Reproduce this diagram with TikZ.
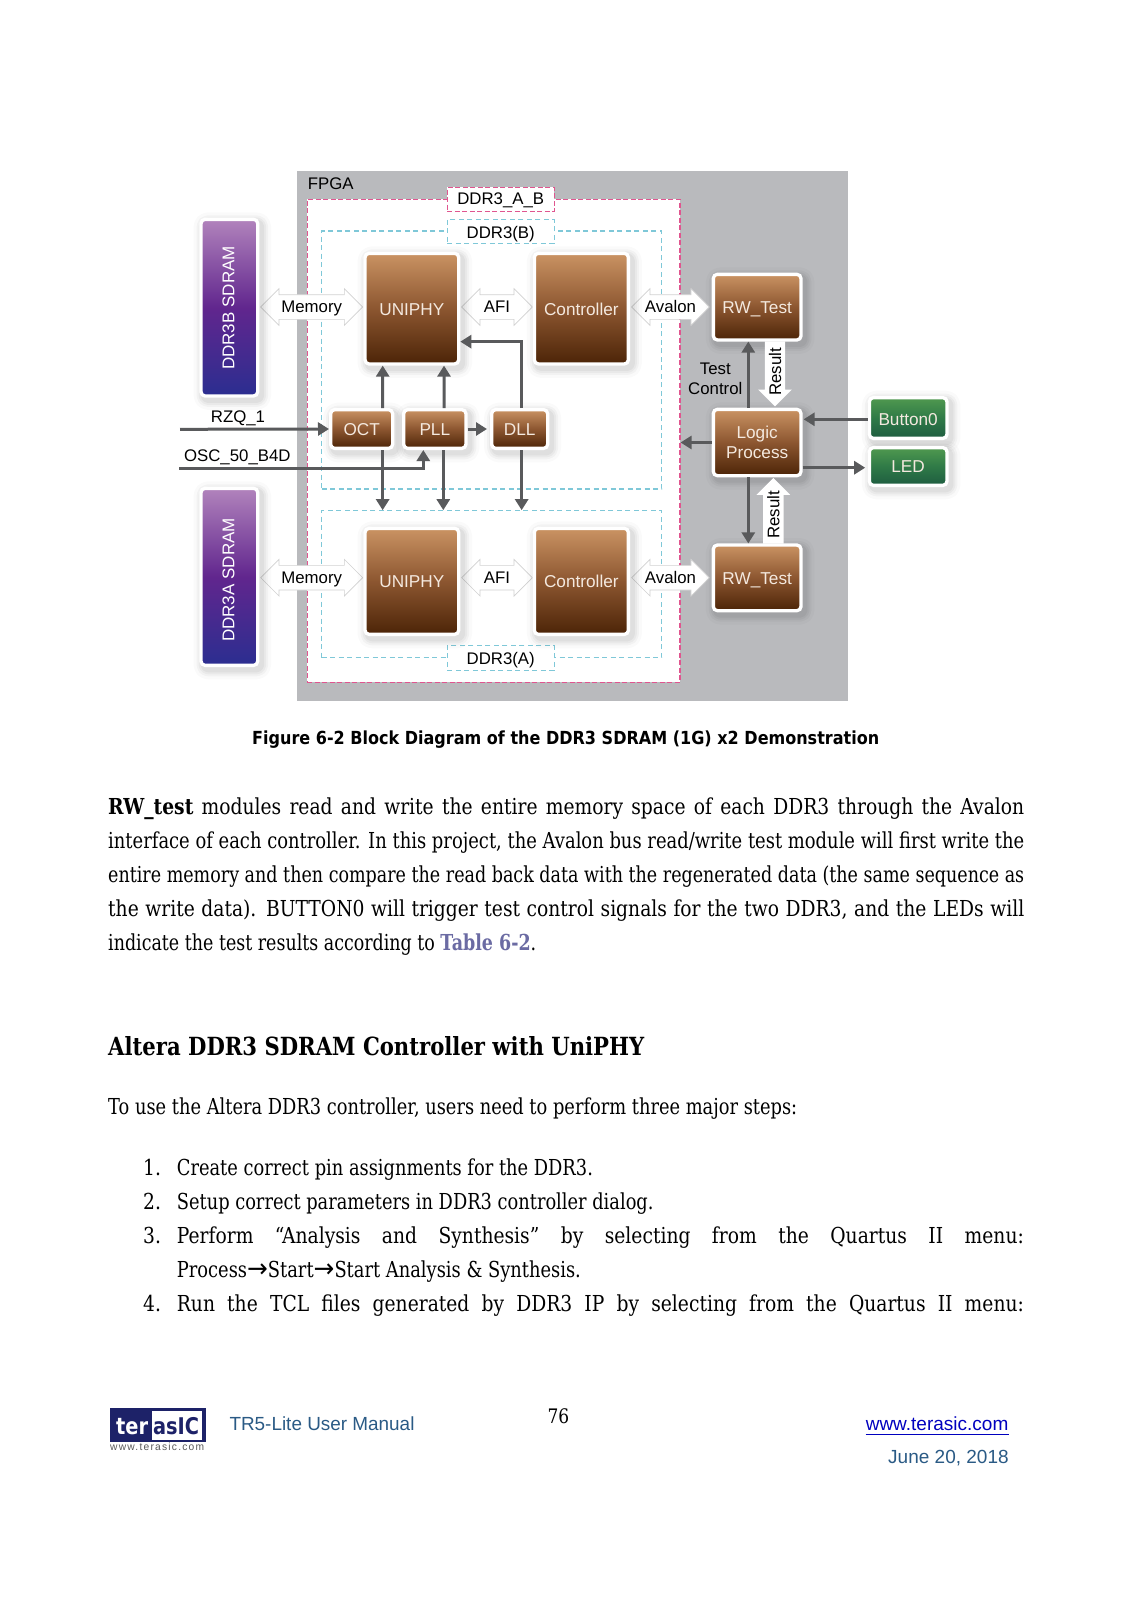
\documentclass[tikz,border=0pt]{standalone}
\usepackage{fontspec}
\usepackage{graphicx}
\usetikzlibrary{arrows.meta,shapes.arrows}
\setmainfont[FakeStretch=.85]{DejaVu Serif}
\newfontfamily\lsans{Liberation Sans}
\newfontfamily\logosm[LetterSpace=12]{Liberation Sans}
\newfontfamily\capfont{DejaVu Sans}
\newfontfamily\arwfont{DejaVu Sans}
\newcommand\szf[1]{\fontsize{#1}{#1}\selectfont}
\newsavebox\flbox
\newcommand\fl[2]{\sbox\flbox{#2}\ifdim\wd\flbox>#1pt\relax\resizebox{#1pt}{\height}{\usebox\flbox}\else\hbox to #1pt{\unhbox\flbox}\fi}
\definecolor{fpgagray}{HTML}{B9BABD}
\definecolor{pinkdash}{HTML}{E0558F}
\definecolor{bluedash}{HTML}{7FC8D8}
\definecolor{arrowgray}{HTML}{595A5C}
\definecolor{footblue}{HTML}{2A5A85}
\definecolor{logonavy}{HTML}{1D2268}
\definecolor{linkcol}{HTML}{6B6BA3}
\definecolor{brtop}{HTML}{CA9363}
\definecolor{brmid}{HTML}{8C5630}
\definecolor{brbot}{HTML}{4C2407}
\definecolor{putop}{HTML}{B183BC}
\definecolor{pumid}{HTML}{61268E}
\definecolor{pubot}{HTML}{2B2E90}
\definecolor{grtop}{HTML}{50994F}
\definecolor{grmid}{HTML}{2F7A47}
\definecolor{grbot}{HTML}{1E5C40}
\definecolor{blocktext}{HTML}{F4E9DF}
\tikzset{
  soft/.style={
    preaction={draw=black,draw opacity=.02,line width=21pt,line join=round,transform canvas={xshift=3pt,yshift=-3.5pt}},
    preaction={draw=black,draw opacity=.03,line width=15pt,line join=round,transform canvas={xshift=3pt,yshift=-3.5pt}},
    preaction={draw=black,draw opacity=.035,line width=11pt,line join=round,transform canvas={xshift=3pt,yshift=-3.5pt}},
    preaction={draw=black,draw opacity=.04,line width=7pt,line join=round,transform canvas={xshift=3pt,yshift=-3.5pt}}},
  block/.style={soft,draw=white,line width=3.3pt,rounded corners=4pt,inner sep=0pt,align=center,text=blocktext,font=\lsans\szf{17.2}},
  brownbox/.style={block,top color=brtop,bottom color=brbot,middle color=brmid},
  purplebox/.style={block,top color=putop,bottom color=pubot,middle color=pumid},
  greenbox/.style={block,top color=grtop,bottom color=grbot,middle color=grmid},
  oneline/.style={text height=#1pt,text depth=0pt},
  txt/.style={inner sep=0pt,font=\lsans\szf{16.8},text=black},
  lbl/.style={inner sep=0pt,font=\lsans\szf{16.8},text=black,align=center},
  dbl/.style={double arrow,draw=black!18,line width=.7pt,fill=white,inner xsep=0pt,inner ysep=6.3pt,double arrow head extend=6pt,double arrow head indent=0pt,minimum width=36pt,font=\lsans\szf{16.8},text=black,oneline=11.4},
  res/.style={single arrow,draw=none,fill=white,inner xsep=0pt,inner ysep=10pt,single arrow head extend=6.7pt,single arrow head indent=0pt,minimum width=33.4pt},
  pinkbox/.style={draw=pinkdash,line width=1.1pt,dash pattern=on 5pt off 2.5pt,inner sep=0pt},
  bluebox/.style={draw=bluedash,line width=1.1pt,dash pattern=on 5pt off 3.5pt,inner sep=0pt},
  arr/.style={draw=arrowgray,line width=3pt,-{Triangle[length=11pt,width=13pt]}},
  bodyline/.style={inner sep=0pt,anchor=base west},
}
\newcommand\bx[7]{%
  \pgfmathsetmacro\bcx{(#2+#4)/2}\pgfmathsetmacro\bcy{(#3+#5)/2}%
  \pgfmathsetmacro\bw{#4-#2+3.3}\pgfmathsetmacro\bh{#5-#3+3.3}%
  \node[#6,minimum width=\bw pt,minimum height=\bh pt] (#1) at (\bcx,\bcy) {#7};}
\newcommand\dash[6]{%
  \pgfmathsetmacro\bcx{(#2+#4)/2}\pgfmathsetmacro\bcy{(#3+#5)/2}%
  \pgfmathsetmacro\bw{#4-#2}\pgfmathsetmacro\bh{#5-#3}%
  \node[#6,minimum width=\bw pt,minimum height=\bh pt] (#1) at (\bcx,\bcy) {};}
\newcommand\body[4]{\node[bodyline] (#1) at (#2,#3) {\szf{22}#4};}
\begin{document}
\begin{tikzpicture}[x=1pt,y=-1pt]
\useasboundingbox (0,0) rectangle (1132,1601);
\fill[white] (0,0) rectangle (1132,1601);

% FPGA and dashed regions
\dash{fpga}{296.7}{171}{847.7}{700.7}{fill=fpgagray,inner sep=0pt}
\dash{pink}{307.3}{199.3}{680}{682.3}{pinkbox,fill=white}
\dash{ddrB}{321.7}{231}{661.7}{489}{bluebox}
\dash{ddrA}{321.7}{510.7}{661.7}{657.7}{bluebox}
\node[pinkbox,fill=white,minimum width=106.7pt,minimum height=24.4pt,font=\lsans\szf{16.8},oneline=9.6] (labAB) at (500.7,199.5) {DDR3\_A\_B};
\node[bluebox,fill=white,minimum width=106.7pt,minimum height=24pt,font=\lsans\szf{16.8},oneline=14] (labB) at (500.7,231.3) {DDR3(B)};
\node[bluebox,fill=white,minimum width=106.7pt,minimum height=25pt,font=\lsans\szf{16.8},oneline=13] (labA) at (500.7,657.8) {DDR3(A)};
\node[txt,anchor=base west] (fpgalab) at (307.7,189.3) {FPGA};

% Wide double arrows
\node[dbl,minimum height=102pt] (memT) at (311.7,307) {Memory};
\node[dbl,minimum height=70.6pt] (afiT) at (497,307) {AFI};
\node[dbl,minimum height=77.6pt] (avaT) at (670.5,307) {Avalon};
\node[dbl,minimum height=102pt] (memB) at (311.7,577.7) {Memory};
\node[dbl,minimum height=70.6pt] (afiB) at (497,577.7) {AFI};
\node[dbl,minimum height=77.6pt] (avaB) at (670.5,577.7) {Avalon};

% Blocks
\bx{ddrBm}{202.7}{221}{256}{394.3}{purplebox}{}
\bx{ddrAm}{202.7}{490}{256}{663.7}{purplebox}{}
\node[inner sep=0pt,rotate=90,text=white,font=\lsans\szf{17}] (ddrBt) at (228.5,308) {DDR3B SDRAM};
\node[inner sep=0pt,rotate=90,text=white,font=\lsans\szf{17}] (ddrAt) at (228.5,580) {DDR3A SDRAM};
\bx{uT}{366.7}{255}{457}{362.3}{brownbox,oneline=14}{UNIPHY}
\bx{cT}{536}{255}{626.7}{362.3}{brownbox,oneline=14}{Controller}
\bx{uB}{366.7}{530}{457}{632.7}{brownbox,oneline=11.3}{UNIPHY}
\bx{cB}{536}{530}{626.7}{632.7}{brownbox,oneline=11.3}{Controller}
\bx{oct}{332.3}{411.3}{391}{446.7}{brownbox,oneline=12.6}{OCT}
\bx{pll}{405.3}{411.3}{464.3}{446.7}{brownbox,oneline=12.6}{PLL}
\bx{dll}{493.3}{411.3}{546}{446.7}{brownbox,oneline=12.6}{DLL}
\bx{rwT}{715}{276}{799.3}{338.3}{brownbox,oneline=12.4}{RW\_Test}
\bx{logic}{715}{411}{799.3}{474}{brownbox}{Logic\\[3pt]Process}
\bx{rwB}{715}{546.7}{799.3}{609}{brownbox,oneline=13}{RW\_Test}
\bx{btn}{871}{399.3}{945.3}{436.7}{greenbox,oneline=14}{Button0}
\bx{led}{871}{449.3}{945.3}{483.7}{greenbox,oneline=11.4}{LED}

% Line connectors
\coordinate (rzqin) at (180,429.3);
\coordinate (oscin) at (179,468.7);
\draw[arr] ([xshift=21pt]oct.north) -- ([xshift=-29.15pt]uT.south);
\draw[arr] ([xshift=9.2pt]pll.north) -- ([xshift=32.15pt]uT.south);
\draw[arr] ([xshift=2pt]dll.north) |- ([yshift=-33pt]uT.east);
\draw[arr] (rzqin) -- (oct.west);
\draw[arr] (oscin) -| ([xshift=-11.5pt]pll.south);
\draw[arr,shorten >=3pt] (pll.east) -- (dll.west);
\draw[arr] ([xshift=21pt]oct.south) -- ([xshift=21pt]oct.south |- ddrA.north);
\draw[arr] ([xshift=8.5pt]pll.south) -- ([xshift=8.5pt]pll.south |- ddrA.north);
\draw[arr] ([xshift=2pt]dll.south) -- ([xshift=2pt]dll.south |- ddrA.north);
\draw[arr] ([xshift=-8.85pt]logic.north) -- ([xshift=-8.85pt]rwT.south);
\draw[arr] ([xshift=-8.85pt]logic.south) -- ([xshift=-8.85pt]rwB.north);
\draw[arr] (logic.west) -- (logic.west -| pink.east);
\draw[arr,shorten >=1pt] ([yshift=-1.3pt]btn.west) -- ([yshift=-1.3pt]btn.west -| logic.east);
\draw[arr,shorten >=2.5pt] ([yshift=-25.2pt]logic.east) -- ([yshift=-25.2pt]logic.east -| led.west);

% Result arrows
\node[res,minimum height=65pt,rotate=-90,anchor=tip] (resT) at (775,406.7) {};
\node[res,minimum height=65.6pt,rotate=90,anchor=tip] (resB) at (773.3,477.7) {};
\node[inner sep=0pt,rotate=90,font=\lsans\szf{16.8}] (resTt) at (775,371.7) {Result};
\node[inner sep=0pt,rotate=90,font=\lsans\szf{16.8}] (resBt) at (773.3,515) {Result};

% Free labels
\node[lbl] (testctl) at (715.3,379) {Test\\[2.8pt]Control};
\node[txt,anchor=base] (rzq) at (238,422.3) {RZQ\_1};
\node[txt,anchor=base] (oscl) at (237.3,461.7) {OSC\_50\_B4D};

% Caption and page text
\node[bodyline] (cap) at (252,744) {\capfont\bfseries\szf{18}\fl{627}{Figure 6-2 Block Diagram of the DDR3 SDRAM (1G) x2 Demonstration}};
\body{p1}{108}{814.3}{\fl{916}{\textbf{RW\_test} modules read and write the entire memory space of each DDR3 through the Avalon}}
\body{p2}{108}{848.3}{\fl{916}{interface of each controller. In this project, the Avalon bus read/write test module will first write the}}
\body{p3}{108}{882}{\fl{916}{entire memory and then compare the read back data with the regenerated data (the same sequence as}}
\body{p4}{108}{916.3}{\fl{916}{the write data). BUTTON0 will trigger test control signals for the two DDR3, and the LEDs will}}
\body{p5}{108}{950.7}{\fl{428}{indicate the test results according to \textcolor{linkcol}{\textbf{Table 6-2}}.}}
\node[bodyline] (head) at (108,1055) {\bfseries\szf{25}\fl{536}{Altera DDR3 SDRAM Controller with UniPHY}};
\body{intro}{108}{1114.3}{\fl{689}{To use the Altera DDR3 controller, users need to perform three major steps:}}
\body{n1}{143}{1175}{1.}
\body{n2}{143}{1209}{2.}
\body{n3}{143}{1243}{3.}
\body{n4}{143}{1311.7}{4.}
\body{l1}{176.7}{1175}{\fl{416}{Create correct pin assignments for the DDR3.}}
\body{l2}{176.7}{1209}{\fl{476.6}{Setup correct parameters in DDR3 controller dialog.}}
\body{l3}{176.7}{1243}{\fl{847}{Perform “Analysis and Synthesis” by selecting from the Quartus II menu:}}
\body{l3b}{176.7}{1277.3}{\fl{404}{Process{\arwfont\szf{26}→}Start{\arwfont\szf{26}→}Start Analysis \& Synthesis.}}
\body{l4}{176.7}{1311.7}{\fl{847}{Run the TCL files generated by DDR3 IP by selecting from the Quartus II menu:}}

% Footer
\fill[logonavy] (110,1408.3) rectangle (206,1442.3);
\fill[white] (151.7,1411) rectangle (201.7,1439.5);
\node[inner sep=0pt,anchor=base,text=white,font=\capfont\bfseries\szf{23}] (logoa) at (132.2,1434) {\fl{32}{ter}};
\node[inner sep=0pt,anchor=base,text=logonavy,font=\capfont\bfseries\szf{23}] (logob) at (176,1434) {\fl{46}{asIC}};
\node[inner sep=0pt,anchor=base west,text=black!65,font=\logosm\szf{10.5}] (logoc) at (110,1450) {\fl{94}{www.terasic.com}};
\node[inner sep=0pt,anchor=base west,text=footblue,font=\lsans\szf{19}] (manual) at (229.3,1430) {\fl{185}{TR5-Lite User Manual}};
\node[inner sep=0pt,anchor=base,font=\szf{20}] (pageno) at (558.4,1423) {76};
\node[inner sep=0pt,anchor=base west,text=blue!75!black,font=\lsans\szf{19}] (url) at (865.6,1430) {\fl{143}{www.terasic.com}};
\draw[blue!75!black,line width=1pt] ([yshift=-4.7pt]url.base west) -- ([yshift=-4.7pt]url.base east);
\node[inner sep=0pt,anchor=base west,text=footblue,font=\lsans\szf{19}] (date) at (888,1463.7) {\fl{120.5}{June 20, 2018}};
\end{tikzpicture}
\end{document}
